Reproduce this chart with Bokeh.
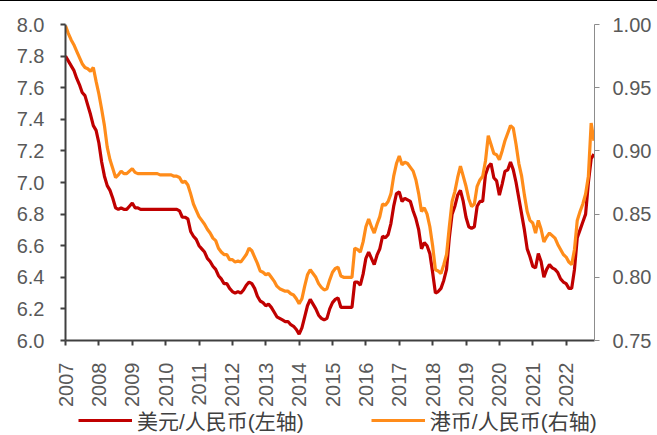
import pandas as pd
from bokeh.plotting import figure
from bokeh.models import (Range1d, LinearAxis, FixedTicker, NumeralTickFormatter,
                          Legend, LegendItem, ColumnDataSource, Div)
from bokeh.layouts import column
from bokeh.embed import file_html
from bokeh.resources import INLINE

# Monthly values, Jan 2007 .. Nov 2022
usd_cny = [
    7.80, 7.77, 7.74, 7.71, 7.66, 7.62, 7.57, 7.55, 7.49, 7.43, 7.36, 7.33,   # 2007
    7.25, 7.13, 7.04, 6.98, 6.95, 6.90, 6.84, 6.83, 6.84, 6.83, 6.83, 6.85,   # 2008
    6.87, 6.84, 6.84, 6.83, 6.83, 6.83, 6.83, 6.83, 6.83, 6.83, 6.83, 6.83,   # 2009
    6.83, 6.83, 6.83, 6.83, 6.83, 6.82, 6.78, 6.78, 6.77, 6.69, 6.66, 6.64,   # 2010
    6.60, 6.58, 6.56, 6.52, 6.50, 6.47, 6.45, 6.41, 6.39, 6.36, 6.36, 6.33,   # 2011
    6.31, 6.30, 6.31, 6.30, 6.32, 6.35, 6.37, 6.36, 6.33, 6.28, 6.25, 6.24,   # 2012
    6.22, 6.23, 6.21, 6.18, 6.15, 6.14, 6.13, 6.12, 6.12, 6.10, 6.09, 6.07,   # 2013
    6.04, 6.08, 6.15, 6.22, 6.26, 6.23, 6.20, 6.16, 6.14, 6.13, 6.14, 6.20,   # 2014
    6.24, 6.26, 6.27, 6.21, 6.21, 6.21, 6.21, 6.21, 6.37, 6.37, 6.35, 6.42,   # 2015
    6.52, 6.56, 6.52, 6.48, 6.54, 6.58, 6.66, 6.65, 6.67, 6.74, 6.85, 6.93,   # 2016
    6.94, 6.88, 6.90, 6.89, 6.88, 6.82, 6.77, 6.70, 6.58, 6.62, 6.60, 6.55,   # 2017
    6.43, 6.30, 6.31, 6.33, 6.38, 6.45, 6.65, 6.80, 6.85, 6.92, 6.95, 6.88,   # 2018
    6.78, 6.72, 6.71, 6.72, 6.85, 6.88, 6.88, 7.05, 7.10, 7.12, 7.03, 7.01,   # 2019
    6.92, 6.99, 7.07, 7.08, 7.13, 7.08, 7.00, 6.90, 6.80, 6.70, 6.58, 6.53,   # 2020
    6.47, 6.46, 6.55, 6.50, 6.40, 6.45, 6.48, 6.46, 6.45, 6.43, 6.39, 6.37,   # 2021
    6.36, 6.33, 6.33, 6.45, 6.65, 6.70, 6.75, 6.80, 7.00, 7.15, 7.18,         # 2022
]

hkd_cny = [
    0.999, 0.993, 0.988, 0.984, 0.979, 0.974, 0.969, 0.966, 0.965, 0.963, 0.966, 0.955,  # 2007
    0.945, 0.933, 0.920, 0.903, 0.893, 0.886, 0.879, 0.881, 0.884, 0.882, 0.882, 0.884,  # 2008
    0.886, 0.883, 0.882, 0.882, 0.882, 0.882, 0.882, 0.882, 0.882, 0.882, 0.881, 0.881,  # 2009
    0.881, 0.881, 0.881, 0.880, 0.880, 0.879, 0.875, 0.876, 0.873, 0.866, 0.858, 0.853,  # 2010
    0.848, 0.845, 0.842, 0.838, 0.835, 0.831, 0.829, 0.823, 0.820, 0.818, 0.818, 0.814,  # 2011
    0.814, 0.812, 0.813, 0.812, 0.815, 0.818, 0.823, 0.821, 0.816, 0.811, 0.805, 0.804,  # 2012
    0.802, 0.803, 0.800, 0.797, 0.793, 0.791, 0.790, 0.789, 0.789, 0.787, 0.786, 0.783,  # 2013
    0.779, 0.783, 0.793, 0.802, 0.806, 0.803, 0.800, 0.795, 0.792, 0.790, 0.791, 0.798,  # 2014
    0.804, 0.807, 0.808, 0.801, 0.800, 0.800, 0.800, 0.800, 0.823, 0.822, 0.820, 0.828,  # 2015
    0.840, 0.846, 0.840, 0.835, 0.842, 0.848, 0.858, 0.857, 0.860, 0.866, 0.880, 0.890,  # 2016
    0.896, 0.889, 0.891, 0.890, 0.887, 0.884, 0.877, 0.866, 0.852, 0.855, 0.850, 0.840,  # 2017
    0.825, 0.806, 0.805, 0.803, 0.810, 0.818, 0.840, 0.860, 0.868, 0.879, 0.888, 0.880,  # 2018
    0.872, 0.862, 0.856, 0.858, 0.872, 0.877, 0.880, 0.892, 0.912, 0.905, 0.898, 0.897,  # 2019
    0.893, 0.900, 0.908, 0.914, 0.920, 0.918, 0.905, 0.890, 0.880, 0.865, 0.852, 0.845,  # 2020
    0.843, 0.835, 0.845, 0.838, 0.828, 0.832, 0.835, 0.833, 0.831, 0.826, 0.822, 0.818,  # 2021
    0.816, 0.812, 0.810, 0.822, 0.845, 0.852, 0.858, 0.866, 0.880, 0.922, 0.908,         # 2022
]

year_ticks = list(range(2007, 2023))
left_ticks = [6.0, 6.2, 6.4, 6.6, 6.8, 7.0, 7.2, 7.4, 7.6, 7.8, 8.0]
right_ticks = [0.75, 0.80, 0.85, 0.90, 0.95, 1.00]
labels = ["美元/人民币(左轴)", "港币/人民币(右轴)"]
colors = ["#C00000", "#FF8C1A"]

dates = pd.date_range("2007-01-01", periods=len(usd_cny), freq="MS")
xs = list(dates.year + (dates.month - 1) / 12.0)
src = ColumnDataSource(dict(x=xs, usd=usd_cny, hkd=hkd_cny))

FONT = "'Liberation Sans', Arial, 'Noto Sans CJK SC'"

p = figure(width=657, height=408, output_backend="svg", toolbar_location=None,
           x_range=Range1d(2007, 2022.85), y_range=Range1d(6.0, 8.0),
           min_border_left=65, min_border_right=63, min_border_top=23,
           min_border_bottom=69)
p.extra_y_ranges = {"hk": Range1d(0.75, 1.00)}
p.xgrid.visible = False
p.ygrid.visible = False
p.outline_line_color = None
p.background_fill_color = "white"
p.border_fill_color = "white"

r1 = p.line("x", "usd", source=src, color=colors[0], line_width=3.2)
r2 = p.line("x", "hkd", source=src, color=colors[1], line_width=3.2, y_range_name="hk")

# left axis
ly = p.yaxis[0]
ly.ticker = FixedTicker(ticks=left_ticks)
ly.formatter = NumeralTickFormatter(format="0.0")
ly.axis_line_color = "#404040"
ly.axis_line_width = 2
ly.major_tick_line_color = "#404040"
ly.major_tick_line_width = 2
ly.major_tick_in = 0
ly.major_tick_out = 5
ly.minor_tick_line_color = None
ly.major_label_standoff = 16
ly.major_label_text_font = FONT
ly.major_label_text_font_size = "20px"
ly.major_label_text_color = "#595959"

# right axis
ry = LinearAxis(y_range_name="hk")
ry.ticker = FixedTicker(ticks=right_ticks)
ry.formatter = NumeralTickFormatter(format="0.00")
ry.axis_line_color = "#8C8C8C"
ry.axis_line_width = 1
ry.major_tick_line_color = "#8C8C8C"
ry.major_tick_in = 0
ry.major_tick_out = 5
ry.minor_tick_line_color = None
ry.major_label_standoff = 13
ry.major_label_text_font = FONT
ry.major_label_text_font_size = "20px"
ry.major_label_text_color = "#595959"
p.add_layout(ry, "right")

# bottom axis
bx = p.xaxis[0]
bx.ticker = FixedTicker(ticks=year_ticks)
bx.formatter = NumeralTickFormatter(format="0")
bx.axis_line_color = "#404040"
bx.axis_line_width = 2
bx.major_tick_line_color = "#404040"
bx.major_tick_line_width = 2
bx.major_tick_in = 0
bx.major_tick_out = 5
bx.minor_tick_line_color = None
bx.major_label_orientation = 1.5707963
bx.major_label_standoff = 17
bx.major_label_text_font = FONT
bx.major_label_text_font_size = "20px"
bx.major_label_text_color = "#595959"

# legend strip (separate small figure below the chart)
lg = figure(width=657, height=26, output_backend="svg", toolbar_location=None,
            x_range=Range1d(0, 1), y_range=Range1d(0, 1),
            x_axis_location=None, y_axis_location=None,
            min_border=0, min_border_left=0, min_border_right=0,
            min_border_top=0, min_border_bottom=0,
            outline_line_color=None)
lg.frame_align = False
lg.xgrid.visible = False
lg.ygrid.visible = False
lg.border_fill_color = "white"
lsrc = ColumnDataSource(dict(x=[10, 11], y=[10, 11]))
g1 = lg.line("x", "y", source=lsrc, color=colors[0], line_width=3.2)
g2 = lg.line("x", "y", source=lsrc, color=colors[1], line_width=3.2)
legend = Legend(items=[LegendItem(label=labels[0], renderers=[g1]),
                       LegendItem(label=labels[1], renderers=[g2])],
                orientation="horizontal", location=(78, 0),
                glyph_width=54, glyph_height=20, label_standoff=5, spacing=67,
                padding=0, margin=0, border_line_color=None,
                background_fill_alpha=0,
                label_text_font=FONT, label_text_font_size="21px",
                label_text_color="#404040")
lg.add_layout(legend, "center")

top = Div(text="", width=657, height=1, margin=0,
          styles={"background-color": "black"})
layout = column(top, p, lg, spacing=0)

open("out.html", "w").write(file_html(layout, INLINE))
